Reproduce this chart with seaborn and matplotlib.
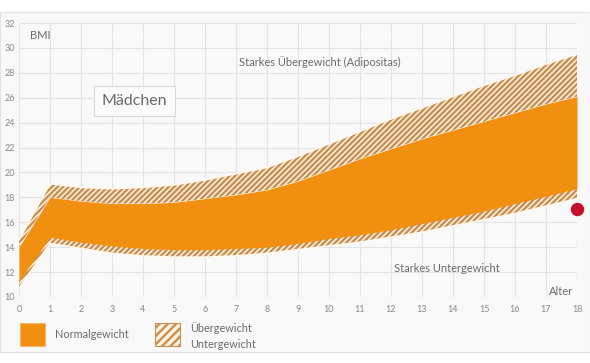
import matplotlib
matplotlib.use("Agg")
import matplotlib.pyplot as plt
from matplotlib.patches import Rectangle
import seaborn as sns
import pandas as pd

# BMI percentile bands for girls
ages = list(range(0, 19))
p3 = [10.7, 14.3, 13.9, 13.5, 13.3, 13.2, 13.2, 13.3, 13.5, 13.8,
      14.1, 14.4, 14.8, 15.2, 15.7, 16.2, 16.7, 17.3, 17.9]
p10 = [11.3, 14.8, 14.4, 14.1, 13.9, 13.8, 13.8, 13.9, 14.0, 14.3,
       14.7, 15.0, 15.4, 15.9, 16.4, 16.9, 17.5, 18.1, 18.7]
p90 = [14.0, 18.0, 17.7, 17.5, 17.5, 17.6, 17.9, 18.2, 18.6, 19.3,
       20.2, 21.1, 21.9, 22.7, 23.4, 24.1, 24.8, 25.5, 26.1]
p97 = [14.6, 19.1, 18.8, 18.7, 18.8, 19.0, 19.4, 19.9, 20.4, 21.3,
       22.3, 23.3, 24.3, 25.2, 26.1, 27.0, 27.8, 28.7, 29.5]
child_age = 18
child_bmi = 17.1

ORANGE = "#f08f10"
HATCH_BG = "#fdf2dd"
HATCH_FG = "#c58f55"
GREY = "#6b6b6b"

df = pd.DataFrame({"age": ages, "p3": p3, "p10": p10, "p90": p90, "p97": p97})

sns.set_theme(style="whitegrid")
plt.rcParams["font.family"] = ["Lato", "DejaVu Sans"]
plt.rcParams["hatch.linewidth"] = 1.7

fig = plt.figure(figsize=(5.9, 3.63), dpi=100)
fig.patch.set_facecolor("white")
# light panel behind everything
fig.patches.append(Rectangle((0, 0.03), 1, 0.937, transform=fig.transFigure,
                             facecolor="#f8f8f8", edgecolor="#e2e2e2", lw=0.8, zorder=-5))

ax = fig.add_axes([19 / 590, 1 - 297 / 363, 558 / 590, 274 / 363])
ax.set_facecolor("#f9f9f9")

ax.fill_between(df["age"], df["p90"], df["p97"], facecolor=HATCH_BG,
                edgecolor=HATCH_FG, hatch="//////", linewidth=0, zorder=2)
ax.fill_between(df["age"], df["p3"], df["p10"], facecolor=HATCH_BG,
                edgecolor=HATCH_FG, hatch="//////", linewidth=0, zorder=2)
ax.fill_between(df["age"], df["p10"], df["p90"], color=ORANGE, linewidth=0, zorder=3)

for col in ["p3", "p97"]:
    sns.lineplot(data=df, x="age", y=col, ax=ax, color="#fff8ec", linewidth=1.2, zorder=4)

ax.scatter([child_age], [child_bmi], s=75, color="#c4122b", zorder=6, clip_on=False)

ax.set_xlim(0, 18)
ax.set_ylim(10, 32)
ax.set_xticks(range(0, 19))
ax.set_yticks(range(10, 33, 2))
ax.grid(True, color="#e3e3e3", linewidth=0.8)
ax.set_axisbelow(True)
for s in ax.spines.values():
    s.set_visible(False)
ax.tick_params(axis="both", length=0, labelsize=6.5, labelcolor="#8a8a8a")
ax.tick_params(axis="y", pad=3)
ax.tick_params(axis="x", pad=6)
ax.set_xlabel("")
ax.set_ylabel("")

ax.text(0.35, 31.0, "BMI", fontsize=8, color=GREY, va="center", ha="left")
ax.text(3.73, 25.7, "Mädchen", fontsize=11.5, color=GREY, va="center", ha="center",
        bbox=dict(boxstyle="square,pad=0.5", facecolor="#fbfbfb", edgecolor="#d8d8d8", lw=0.8))
ax.text(9.7, 28.9, "Starkes Übergewicht (Adipositas)", fontsize=8, color=GREY,
        va="center", ha="center")
ax.text(13.8, 12.3, "Starkes Untergewicht", fontsize=8, color=GREY,
        va="center", ha="center")
ax.text(17.5, 10.45, "Alter", fontsize=8, color=GREY, va="center", ha="center")

# legend drawn by hand
fig.patches.append(Rectangle((20 / 590, 1 - 346 / 363), 25 / 590, 23 / 363,
                             transform=fig.transFigure, facecolor=ORANGE,
                             edgecolor="#f5b870", lw=0.8))
fig.patches.append(Rectangle((155 / 590, 1 - 346 / 363), 25 / 590, 23 / 363,
                             transform=fig.transFigure, facecolor=HATCH_BG,
                             edgecolor=HATCH_FG, hatch="////", lw=0.8))
fig.text(55 / 590, 1 - 334 / 363, "Normalgewicht", fontsize=7.8, color=GREY, va="center")
fig.text(190 / 590, 1 - 328 / 363, "Übergewicht", fontsize=7.8, color=GREY, va="center")
fig.text(190 / 590, 1 - 344 / 363, "Untergewicht", fontsize=7.8, color=GREY, va="center")

fig.savefig("out.png", dpi=100)
